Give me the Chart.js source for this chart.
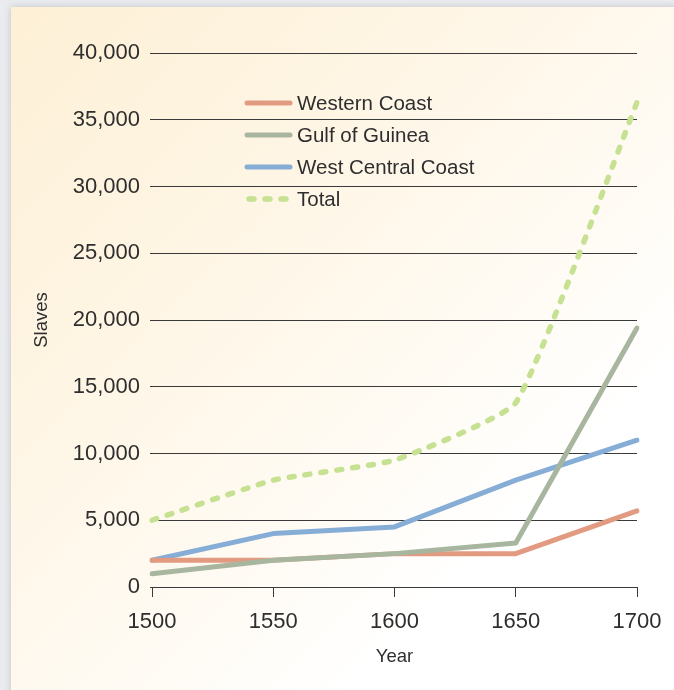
<!DOCTYPE html>
<html>
<head>
<meta charset="utf-8">
<script src="https://cdn.jsdelivr.net/npm/chart.js@4/dist/chart.umd.min.js"></script>
<style>
  html, body { margin: 0; padding: 0; background: #e9ebee; overflow: hidden; }
  #panel {
    position: absolute; left: 11px; top: 7px; width: 700px; height: 720px;
    background: linear-gradient(135deg, #fdf0d6 0%, #fef5e4 30%, #fffaf1 52%, #ffffff 72%);
    box-shadow: 0 0 7px rgba(0, 0, 0, 0.16);
  }
  #wrap { position: absolute; left: 0; top: 0; width: 674px; height: 690px; }
</style>
</head>
<body>
<div id="panel"></div>
<div id="wrap"><canvas id="chart" width="674" height="690"></canvas></div>
<script>
// Slaves exported per region, by year
const years = ['1500', '1550', '1600', '1650', '1700'];
const westernCoast     = [2000, 2000, 2500, 2500, 5700];
const gulfOfGuinea     = [1000, 2000, 2500, 3300, 19400];
const westCentralCoast = [2000, 4000, 4500, 8000, 11000];
const total            = [5000, 8000, 9500, 13800, 36300];

const yMin = 0, yMax = 40000, yStep = 5000;

const FONT = '"Liberation Sans", Arial, Helvetica, sans-serif';
const TEXT = '#2e2e2e';
const GRID = '#3a3a3a';

// Legend drawn inside the plot area, over the grid lines
const innerLegend = {
  id: 'innerLegend',
  afterDraw(chart) {
    const ctx = chart.ctx;
    const x0 = 247, x1 = 290, tx = 297, y0 = 103, dy = 32;
    ctx.save();
    chart.data.datasets.forEach((ds, i) => {
      const y = y0 + i * dy;
      ctx.beginPath();
      ctx.lineWidth = ds.borderWidth;
      ctx.lineCap = 'round';
      ctx.strokeStyle = ds.borderColor;
      ctx.setLineDash(ds.borderDash || []);
      ctx.lineDashOffset = 0;
      ctx.moveTo(ds.borderDash ? x0 + 2 : x0, y);
      ctx.lineTo(x1, y);
      ctx.stroke();
      ctx.setLineDash([]);
      ctx.fillStyle = TEXT;
      ctx.font = '20.5px ' + FONT;
      ctx.textBaseline = 'middle';
      ctx.textAlign = 'left';
      ctx.fillText(ds.label, tx, y + 1);
    });
    ctx.restore();
  }
};

new Chart(document.getElementById('chart'), {
  type: 'line',
  data: {
    labels: years,
    datasets: [
      { label: 'Western Coast', data: westernCoast, borderColor: '#e29a81', order: 2 },
      { label: 'Gulf of Guinea', data: gulfOfGuinea, borderColor: '#a8b69f', order: 1 },
      { label: 'West Central Coast', data: westCentralCoast, borderColor: '#85add6', order: 3 },
      { label: 'Total', data: total, borderColor: '#c6e191', borderWidth: 5.5, borderDash: [5, 11], tension: 0.13, order: 0 }
    ].map(d => Object.assign({
      borderWidth: 5,
      pointRadius: 0,
      pointHoverRadius: 0,
      fill: false,
      tension: 0,
      borderCapStyle: 'round',
      borderJoinStyle: 'round'
    }, d))
  },
  options: {
    responsive: false,
    animation: false,
    devicePixelRatio: 1,
    layout: { padding: { top: 53, right: 37, bottom: 0, left: 0 } },
    plugins: { legend: { display: false }, tooltip: { enabled: false } },
    scales: {
      x: {
        type: 'category',
        offset: false,
        grid: { drawOnChartArea: false, drawTicks: true, tickLength: 10, color: GRID, lineWidth: 1 },
        border: { display: false },
        ticks: { color: TEXT, font: { family: FONT, size: 22 }, padding: 12, maxRotation: 0 },
        title: { display: true, text: 'Year', color: TEXT, font: { family: FONT, size: 18.5 }, padding: { top: 0, bottom: 22 } },
        afterFit(scale) { scale.height = 103; }
      },
      y: {
        min: yMin,
        max: yMax,
        grid: { color: GRID, lineWidth: 1, drawTicks: true, tickLength: 2 },
        border: { display: false },
        ticks: {
          stepSize: yStep,
          color: TEXT,
          font: { family: FONT, size: 22 },
          padding: 10,
          callback: v => v.toLocaleString('en-US')
        },
        title: { display: true, text: 'Slaves', color: TEXT, font: { family: FONT, size: 18.5 }, padding: { top: 31, bottom: 0 } },
        afterFit(scale) { scale.width = 152; }
      }
    }
  },
  plugins: [innerLegend]
});
</script>
</body>
</html>
